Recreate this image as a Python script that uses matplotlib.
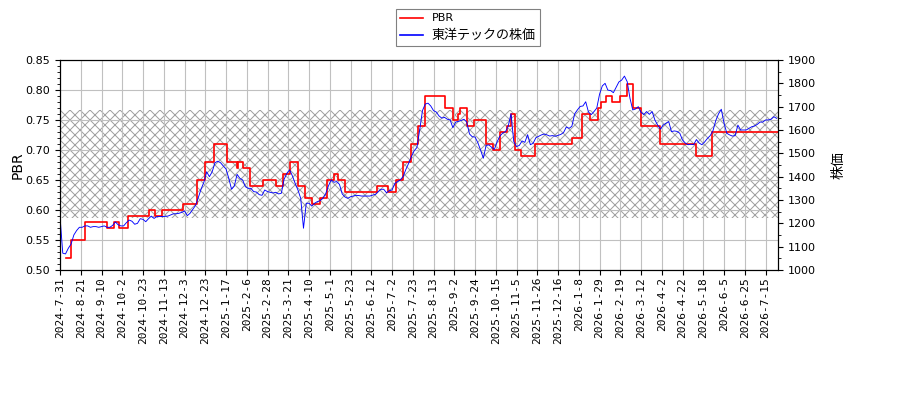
import numpy as np
import matplotlib
matplotlib.use("Agg")
import matplotlib.pyplot as plt
from matplotlib.ticker import MultipleLocator

# ---------------- data ----------------
x_labels = ["2024-7-31", "2024-8-21", "2024-9-10", "2024-10-2", "2024-10-23",
            "2024-11-13", "2024-12-3", "2024-12-23", "2025-1-17", "2025-2-6",
            "2025-2-28", "2025-3-21", "2025-4-10", "2025-5-1", "2025-5-23",
            "2025-6-12", "2025-7-2", "2025-7-23", "2025-8-13", "2025-9-2",
            "2025-9-24", "2025-10-15", "2025-11-5", "2025-11-26", "2025-12-16",
            "2026-1-8", "2026-1-29", "2026-2-19", "2026-3-12", "2026-4-2",
            "2026-4-22", "2026-5-18", "2026-6-5", "2026-6-25", "2026-7-15"]
label_every = 15          # trading days between labelled ticks
last_day = 519            # index of last trading day shown

# PBR (step series): trading-day index where each level starts, and the level
pbr_start = [4, 8, 18, 34, 39, 43, 49, 64, 69, 74,
             89, 99, 105, 111, 121, 128, 129, 132, 137, 147,
             156, 161, 166, 172, 177, 182, 188, 193, 198, 201,
             206, 229, 237, 243, 248, 254, 259, 264, 278, 284,
             288, 289, 294, 299, 308, 313, 318, 323, 326, 329,
             333, 343, 370, 377, 383, 389, 391, 395, 399, 405,
             410, 414, 420, 434, 460, 471]
pbr_value = [0.52, 0.55, 0.58, 0.57, 0.58, 0.57, 0.59, 0.60, 0.59, 0.60,
             0.61, 0.65, 0.68, 0.71, 0.68, 0.67, 0.68, 0.67, 0.64, 0.65,
             0.64, 0.66, 0.68, 0.64, 0.62, 0.61, 0.62, 0.65, 0.66, 0.65,
             0.63, 0.64, 0.63, 0.65, 0.68, 0.71, 0.74, 0.79, 0.77, 0.75,
             0.76, 0.77, 0.74, 0.75, 0.71, 0.70, 0.73, 0.74, 0.76, 0.70,
             0.69, 0.71, 0.72, 0.76, 0.75, 0.77, 0.78, 0.79, 0.78, 0.79,
             0.81, 0.77, 0.74, 0.71, 0.69, 0.73]

# stock price, sampled every 2 trading days starting at day 0
price_step = 2
price = [1229, 1072, 1069, 1093, 1111, 1150, 1169, 1183, 1183, 1189,
         1189, 1183, 1186, 1186, 1183, 1186, 1189, 1183, 1183, 1191,
         1206, 1194, 1189, 1189, 1203, 1214, 1209, 1196, 1200, 1220,
         1217, 1207, 1220, 1231, 1221, 1229, 1229, 1229, 1230, 1231,
         1236, 1241, 1241, 1243, 1247, 1253, 1233, 1243, 1260, 1277,
         1311, 1347, 1376, 1421, 1400, 1421, 1460, 1466, 1460, 1446,
         1433, 1393, 1346, 1360, 1410, 1393, 1386, 1357, 1350, 1350,
         1336, 1334, 1323, 1320, 1343, 1336, 1333, 1330, 1333, 1326,
         1329, 1389, 1414, 1429, 1403, 1371, 1343, 1307, 1179, 1286,
         1286, 1274, 1286, 1293, 1297, 1307, 1326, 1360, 1386, 1376,
         1379, 1367, 1326, 1313, 1307, 1314, 1317, 1320, 1319, 1317,
         1317, 1317, 1317, 1321, 1324, 1336, 1346, 1346, 1331, 1340,
         1343, 1371, 1379, 1386, 1400, 1431, 1457, 1486, 1511, 1525,
         1600, 1683, 1711, 1715, 1703, 1683, 1677, 1660, 1651, 1654,
         1646, 1643, 1610, 1634, 1637, 1641, 1646, 1634, 1583, 1571,
         1570, 1546, 1514, 1479, 1534, 1536, 1526, 1517, 1550, 1574,
         1587, 1593, 1616, 1670, 1550, 1529, 1534, 1553, 1547, 1580,
         1537, 1543, 1567, 1573, 1579, 1583, 1579, 1574, 1576, 1573,
         1577, 1581, 1589, 1613, 1607, 1616, 1669, 1686, 1701, 1703,
         1721, 1677, 1666, 1679, 1694, 1753, 1789, 1800, 1771, 1769,
         1760, 1783, 1806, 1814, 1831, 1807, 1736, 1686, 1690, 1700,
         1676, 1666, 1679, 1667, 1679, 1643, 1621, 1604, 1621, 1629,
         1636, 1593, 1596, 1594, 1586, 1557, 1544, 1537, 1539, 1537,
         1559, 1544, 1537, 1549, 1564, 1576, 1597, 1640, 1669, 1689,
         1629, 1586, 1579, 1574, 1576, 1621, 1600, 1600, 1600, 1607,
         1614, 1617, 1624, 1634, 1634, 1643, 1643, 1646, 1657, 1650]

band_low, band_high = 0.587, 0.767   # hatched PBR band

# ---------------- style ----------------
DPI = 120
k = 100.0 / DPI   # sizes below are given as points at 100 dpi
plt.rcParams['font.family'] = ['DejaVu Sans', 'Noto Sans CJK JP']
plt.rcParams['hatch.linewidth'] = 0.6
plt.rcParams['axes.linewidth'] = 0.8 * k

fig = plt.figure(figsize=(900 / DPI, 400 / DPI), dpi=DPI)
ax = fig.add_axes([60 / 900, 130 / 400, 718 / 900, 210 / 400])
ax2 = ax.twinx()

# hatched band
ax.axhspan(band_low, band_high, facecolor='none', edgecolor='#a0a0a0',
           hatch='xxxx', linewidth=0, zorder=1)

# PBR step line
sx = list(pbr_start) + [last_day]
sy = list(pbr_value) + [pbr_value[-1]]
l1, = ax.step(sx, sy, where='post', color='red', lw=1.2 * k, label='PBR', zorder=2)

# stock price line
px = np.arange(len(price)) * price_step
l2, = ax2.plot(px, price, color='blue', lw=0.65 * k, label='東洋テックの株価')

ax.set_xlim(0, last_day)
ax.set_ylim(0.50, 0.85)
ax2.set_ylim(1000, 1900)

ax.yaxis.set_major_locator(MultipleLocator(0.05))
ax.yaxis.set_minor_locator(MultipleLocator(0.01))
ax2.yaxis.set_major_locator(MultipleLocator(100))
ax2.yaxis.set_minor_locator(MultipleLocator(50))
ax.yaxis.set_major_formatter(plt.FormatStrFormatter('%.2f'))

ticks = np.arange(len(x_labels)) * label_every
ax.set_xticks(ticks)
ax.set_xticklabels(x_labels, rotation=90, family='DejaVu Sans Mono',
                   fontsize=7.3 * k)

for a in (ax, ax2):
    a.tick_params(which='major', length=3.5 * k, width=0.8 * k, pad=3.5 * k,
                  labelsize=8 * k)
    a.tick_params(which='minor', length=2 * k, width=0.6 * k)
ax.tick_params(axis='x', pad=1.5 * k)

ax.grid(True, which='major', color='#c0c0c0', lw=0.8 * k)

ax.set_ylabel('PBR', fontsize=10 * k, labelpad=1.0 * k)
ax2.set_ylabel('株価', fontsize=10 * k, labelpad=11 * k)

leg = fig.legend([l1, l2], ['PBR', '東洋テックの株価'], loc='upper center',
                 bbox_to_anchor=(468 / 900, 1 - 9 / 400), fancybox=False,
                 edgecolor='#808080', framealpha=1, facecolor='white',
                 fontsize=8 * k, borderaxespad=0)
leg.get_frame().set_linewidth(0.8 * k)
leg.get_texts()[1].set_fontsize(9.4 * k)
for h in leg.legend_handles:
    h.set_linewidth(1.2 * k)

fig.savefig('out.png', dpi=DPI)
